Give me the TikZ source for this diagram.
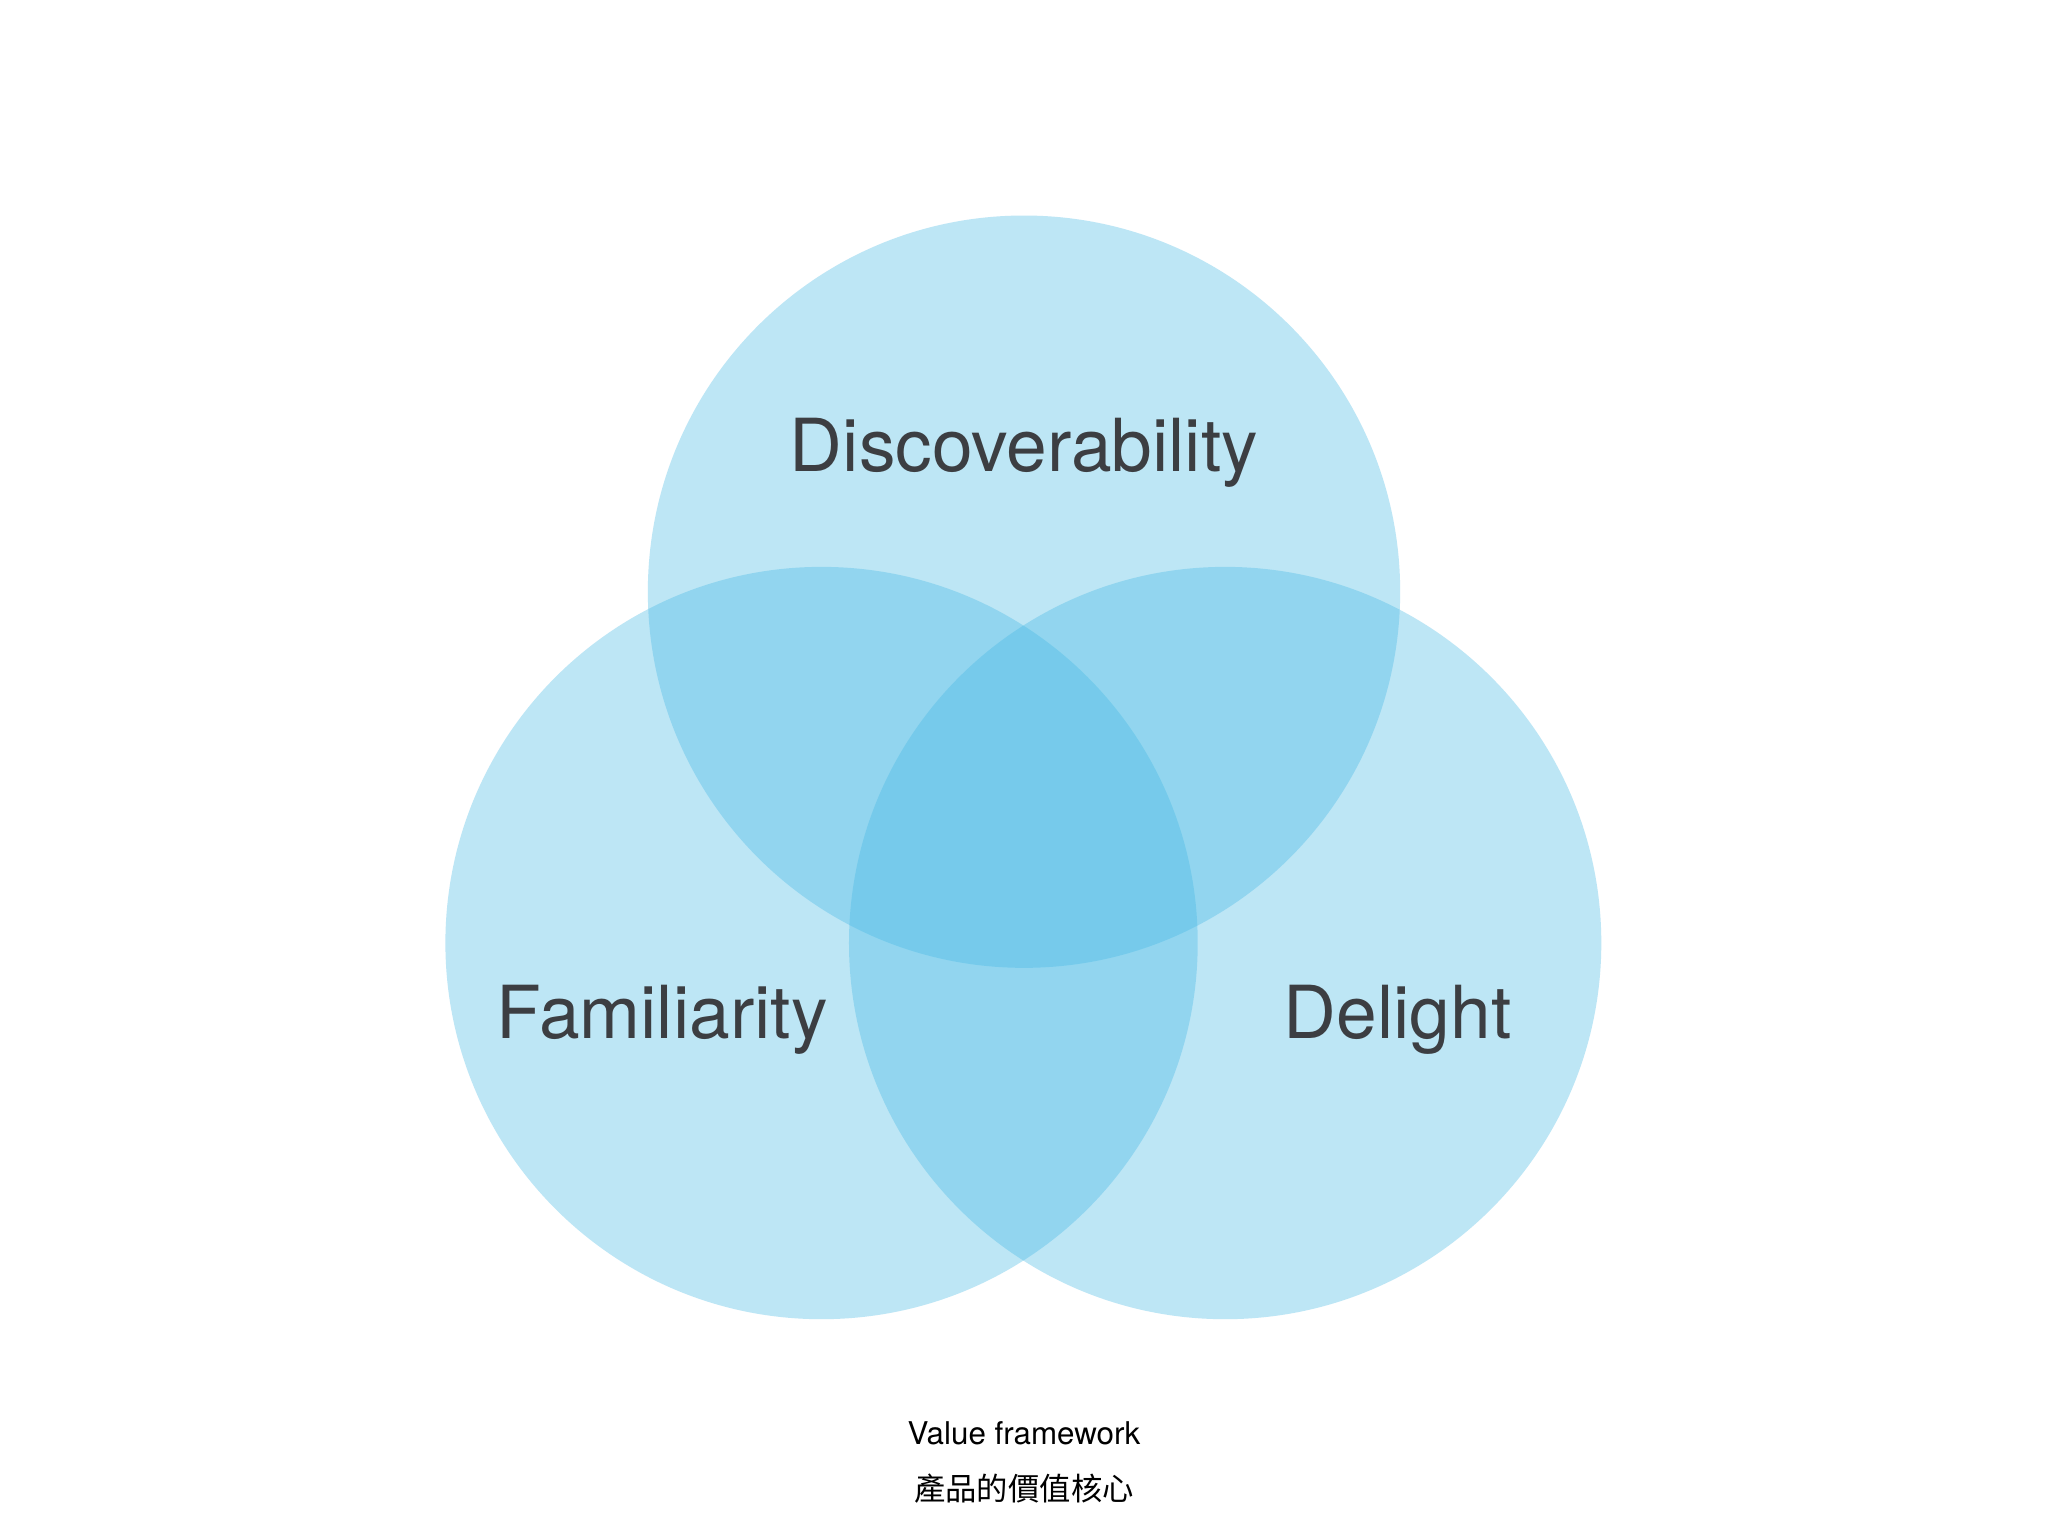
\documentclass[tikz,border=0pt]{standalone}
\usepackage{fontspec}
\setmainfont{TeX Gyre Heros}
\newfontfamily\cjk{Noto Sans CJK TC}
\definecolor{venn}{RGB}{66,184,229}
\definecolor{txt}{RGB}{60,62,66}
\begin{document}
\begin{tikzpicture}[x=1pt,y=-1pt,
  vc/.style={fill=venn,fill opacity=0.35,draw=none},
  lbl/.style={text=txt,font=\fontsize{56}{60}\selectfont,inner sep=0pt},
  captxt/.style={text=black,font=\fontsize{24}{28}\selectfont,inner sep=0pt}]
\useasboundingbox[fill=white] (0,0) rectangle (1568,1176);
\fill[vc] (784,453) circle (288);
\fill[vc] (629,722) circle (288);
\fill[vc] (938,722) circle (288);
\node[lbl] (d) at (784,347) {Discoverability};
\node[lbl] (f) at (507,781) {Familiarity};
\node[lbl] (g) at (1070,781) {Delight};
\node[captxt] (c1) at (784,1097) {Value framework};
\node[captxt] (c2) at (784,1140) {\cjk 產品的價值核心};
\end{tikzpicture}
\end{document}
